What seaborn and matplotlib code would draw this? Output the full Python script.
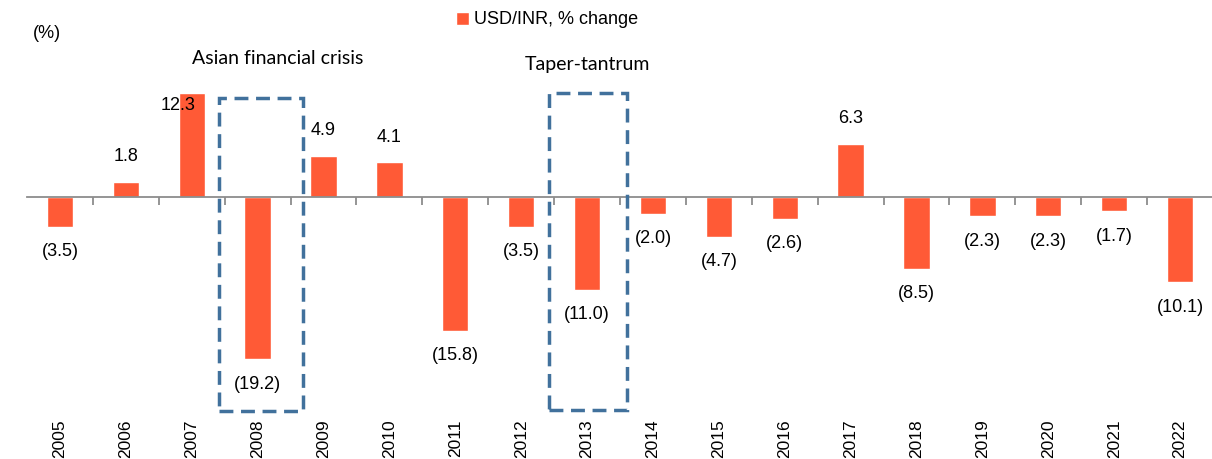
import numpy as np
import pandas as pd
import seaborn as sns
import matplotlib.pyplot as plt
from matplotlib.patches import Rectangle
import matplotlib.transforms as mtransforms

years = [str(y) for y in range(2005, 2023)]
changes = [-3.5, 1.8, 12.3, -19.2, 4.9, 4.1, -15.8, -3.5, -11.0, -2.0,
           -4.7, -2.6, 6.3, -8.5, -2.3, -2.3, -1.7, -10.1]
series_name = "USD/INR, % change"
events = [("Asian financial crisis", "2008"), ("Taper-tantrum", "2013")]

bar_color = "#FF5A36"
box_color = "#41719C"

sns.set_style("white")
plt.rcParams["font.family"] = ["Liberation Sans", "DejaVu Sans"]
plt.rcParams["text.color"] = "black"

df = pd.DataFrame({"year": years, "change": changes})

fig = plt.figure(figsize=(12.12, 4.59), dpi=100)
# axes spans the category area; zero line sits at ~197 px from top
ax = fig.add_axes([27 / 1212, 1 - 415 / 459, 1186 / 1212, 355 / 459])

sns.barplot(data=df, x="year", y="change", color=bar_color, width=0.4,
            saturation=1, label=series_name, ax=ax)

ppu = 8.45  # pixels per percentage point
ax.set_ylim(-(415 - 197) / ppu, (197 - 60) / ppu)
ax.set_xlim(-0.5, len(years) - 0.5)

for s in ["top", "right", "left"]:
    ax.spines[s].set_visible(False)
ax.spines["bottom"].set_position(("data", 0))
ax.spines["bottom"].set_color("#8C8C8C")
ax.spines["bottom"].set_linewidth(1.3)
ax.set_yticks([])
ax.set_xticks(np.arange(len(years)))
ax.set_xticklabels([])
ax.tick_params(axis="x", which="major", length=0)
ax.set_xticks(np.arange(len(years) - 1) + 0.5, minor=True)
ax.tick_params(axis="x", which="minor", bottom=True, length=6, width=1.3,
               color="#8C8C8C", direction="out")
ax.set_xlabel("")
ax.set_ylabel("")

fs = 13
# year labels along the bottom
trans = mtransforms.blended_transform_factory(ax.transData, ax.transAxes)
for i, y in enumerate(years):
    ax.text(i, -0.012, y, transform=trans, rotation=90, ha="center", va="top",
            fontsize=12.5)

# value labels
off = 25 / ppu
for i, v in enumerate(changes):
    txt = f"{v:.1f}" if v >= 0 else f"({abs(v):.1f})"
    if v == max(changes):
        ax.text(i - 0.2, v - 1.5, txt, ha="center", va="center", fontsize=fs)
    elif v >= 0:
        ax.text(i, v + off, txt, ha="center", va="center", fontsize=fs)
    else:
        ax.text(i, v - off, txt, ha="center", va="center", fontsize=fs)

# dashed boxes around event years
for (name, yr), (lo, hi, top, bot, tx, ty) in zip(
        events, [(-0.59, 0.69, 11.7, -25.3, 0.3, 16.4),
                 (-0.58, 0.61, 12.3, -25.2, 0.0, 15.7)]):
    i = years.index(yr)
    ax.add_patch(Rectangle((i + lo, bot), hi - lo, top - bot, fill=False,
                           edgecolor=box_color, linestyle=(0, (4, 2.2)),
                           linewidth=2.5, clip_on=False, zorder=5))
    ax.text(i + tx, ty, name, ha="center", va="center", fontsize=14,
            family=["Lato", "DejaVu Sans"], clip_on=False)

fig.text(47 / 1212, 1 - 33 / 459, "(%)", ha="center", va="center", fontsize=fs)

leg = ax.legend(loc="center", bbox_to_anchor=(547 / 1212, 1 - 20 / 459),
                bbox_transform=fig.transFigure, frameon=False, fontsize=fs,
                handlelength=0.7, handleheight=0.7, handletextpad=0.3)

fig.savefig("out.png", dpi=100)
